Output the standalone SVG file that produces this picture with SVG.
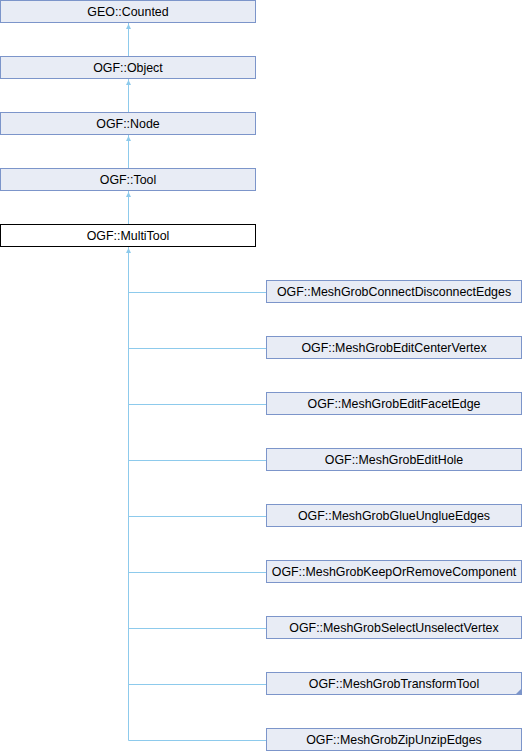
<svg xmlns="http://www.w3.org/2000/svg" width="522" height="752" viewBox="0 0 522 752">
<style>
.n rect{fill:#e8ecf5;stroke:#7c95ca;stroke-width:1}
.m rect{fill:#ffffff;stroke:#000000;stroke-width:1}
text{font-family:"Liberation Sans",Arial,sans-serif;font-size:12.4px;fill:#000;text-anchor:middle}
.e line{stroke:#8dcaec;stroke-width:1;fill:none}
.e polygon{fill:#8dcaec;stroke:none}
</style>
<rect width="522" height="752" fill="#ffffff"/>
<g class="e" id="connectors">
<line x1="128.5" y1="23" x2="128.5" y2="56.5"/><polygon points="128.5,24 126,29 131,29"/>
<line x1="128.5" y1="79" x2="128.5" y2="112.5"/><polygon points="128.5,80 126,85 131,85"/>
<line x1="128.5" y1="135" x2="128.5" y2="168.5"/><polygon points="128.5,136 126,141 131,141"/>
<line x1="128.5" y1="191" x2="128.5" y2="224.5"/><polygon points="128.5,192 126,197 131,197"/>
<line x1="128.5" y1="247" x2="128.5" y2="740.5"/><polygon points="128.5,248 126,253 131,253"/>
<line x1="128.5" y1="292.5" x2="266.5" y2="292.5"/>
<line x1="128.5" y1="348.5" x2="266.5" y2="348.5"/>
<line x1="128.5" y1="404.5" x2="266.5" y2="404.5"/>
<line x1="128.5" y1="460.5" x2="266.5" y2="460.5"/>
<line x1="128.5" y1="516.5" x2="266.5" y2="516.5"/>
<line x1="128.5" y1="572.5" x2="266.5" y2="572.5"/>
<line x1="128.5" y1="628.5" x2="266.5" y2="628.5"/>
<line x1="128.5" y1="684.5" x2="266.5" y2="684.5"/>
<line x1="128.5" y1="740.5" x2="266.5" y2="740.5"/>
</g>
<g class="n" id="GEO_Counted"><rect x="0.5" y="0.5" width="255" height="22"/><text x="128" y="16">GEO::Counted</text></g>
<g class="n" id="OGF_Object"><rect x="0.5" y="56.5" width="255" height="22"/><text x="128" y="72">OGF::Object</text></g>
<g class="n" id="OGF_Node"><rect x="0.5" y="112.5" width="255" height="22"/><text x="128" y="128">OGF::Node</text></g>
<g class="n" id="OGF_Tool"><rect x="0.5" y="168.5" width="255" height="22"/><text x="128" y="184">OGF::Tool</text></g>
<g class="m" id="OGF_MultiTool"><rect x="0.5" y="224.5" width="255" height="22"/><text x="128" y="240">OGF::MultiTool</text></g>
<g class="n" id="ConnectDisconnectEdges"><rect x="266.5" y="280.5" width="255" height="22"/><text x="394" y="296">OGF::MeshGrobConnectDisconnectEdges</text></g>
<g class="n" id="EditCenterVertex"><rect x="266.5" y="336.5" width="255" height="22"/><text x="394" y="352">OGF::MeshGrobEditCenterVertex</text></g>
<g class="n" id="EditFacetEdge"><rect x="266.5" y="392.5" width="255" height="22"/><text x="394" y="408">OGF::MeshGrobEditFacetEdge</text></g>
<g class="n" id="EditHole"><rect x="266.5" y="448.5" width="255" height="22"/><text x="394" y="464">OGF::MeshGrobEditHole</text></g>
<g class="n" id="GlueUnglueEdges"><rect x="266.5" y="504.5" width="255" height="22"/><text x="394" y="520">OGF::MeshGrobGlueUnglueEdges</text></g>
<g class="n" id="KeepOrRemoveComponent"><rect x="266.5" y="560.5" width="255" height="22"/><text x="394" y="576">OGF::MeshGrobKeepOrRemoveComponent</text></g>
<g class="n" id="SelectUnselectVertex"><rect x="266.5" y="616.5" width="255" height="22"/><text x="394" y="632">OGF::MeshGrobSelectUnselectVertex</text></g>
<g class="n" id="TransformTool"><rect x="266.5" y="672.5" width="255" height="22"/><polygon points="521.5,688.5 521.5,694.5 515.5,694.5" fill="#7c95ca"/><text x="394" y="688">OGF::MeshGrobTransformTool</text></g>
<g class="n" id="ZipUnzipEdges"><rect x="266.5" y="728.5" width="255" height="22"/><text x="394" y="744">OGF::MeshGrobZipUnzipEdges</text></g>
</svg>
